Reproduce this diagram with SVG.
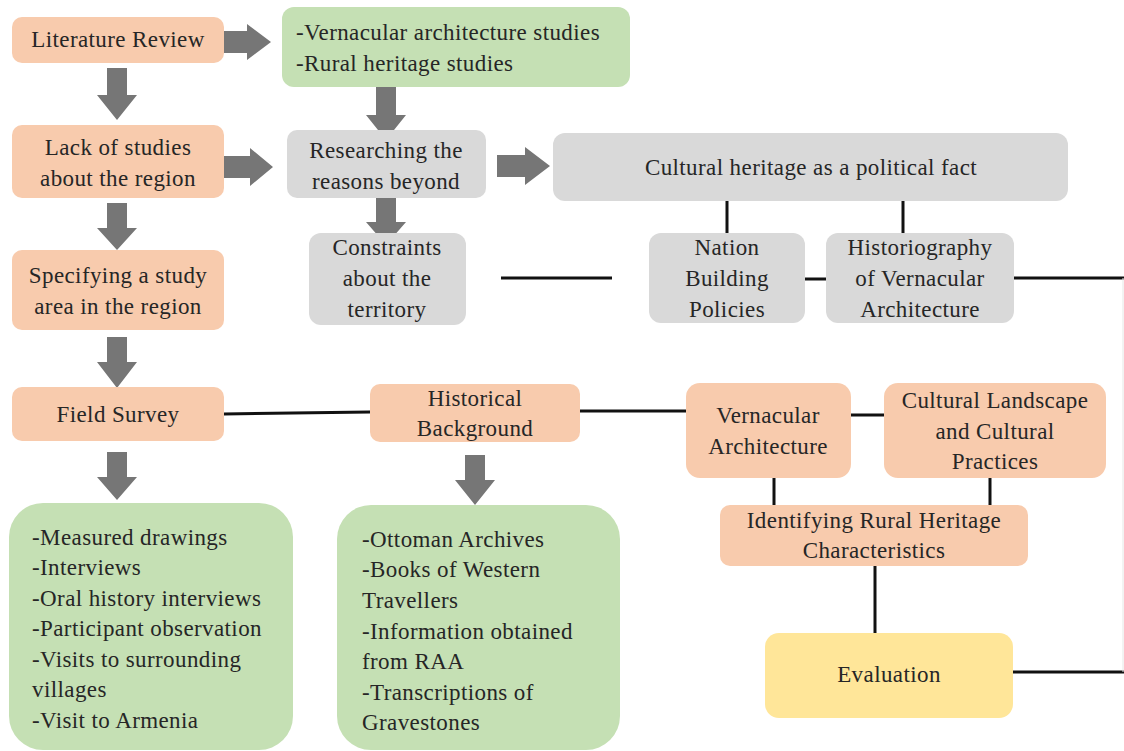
<svg xmlns="http://www.w3.org/2000/svg" width="1124" height="751" viewBox="0 0 1124 751">
<style>
.peach{fill:#f8cbad}
.green{fill:#c5e0b4}
.gray{fill:#d9d9d9}
.yellow{fill:#ffe699}
text{font-family:"Liberation Serif","DejaVu Serif",serif;font-size:23px;letter-spacing:0.4px;fill:#262626}
.c{text-anchor:middle}
.ln{stroke:#111;stroke-width:3;fill:none}
.arr{fill:#767676}
</style>
<rect width="1124" height="751" fill="#ffffff"/>
<g id="connectors">
<path class="arr" d="M222,31 H247 V24 L271,42 L247,60 V53 H222 Z"/>
<path class="arr" d="M224,156 H250 V148 L273,167 L250,186 V178 H224 Z"/>
<path class="arr" d="M497,155 H525 V147 L550,166 L525,185 V177 H497 Z"/>
<path class="arr" d="M107,68 H127 V95 H137 L117,120 L97,95 H107 Z"/>
<path class="arr" d="M107,203 H127 V228 H137 L117,250 L97,228 H107 Z"/>
<path class="arr" d="M107,337 H127 V362 H137 L117,388 L97,362 H107 Z"/>
<path class="arr" d="M107,452 H127 V477 H137 L117,500 L97,477 H107 Z"/>
<path class="arr" d="M376,85 H396 V115 H406 L386,140 L366,115 H376 Z"/>
<path class="arr" d="M376,193 H396 V222 H406 L386,245 L366,222 H376 Z"/>
<path class="arr" d="M465,455 H485 V480 H495 L475,505 L455,480 H465 Z"/>
<line class="ln" x1="501" y1="278" x2="612" y2="278"/>
<line class="ln" x1="727" y1="198" x2="727" y2="233"/>
<line class="ln" x1="903" y1="198" x2="903" y2="233"/>
<line class="ln" x1="805" y1="279" x2="826" y2="279"/>
<line class="ln" x1="1014" y1="278" x2="1124" y2="278"/>
<line class="ln" x1="224" y1="414" x2="370" y2="412"/>
<line class="ln" x1="580" y1="411" x2="686" y2="411"/>
<line class="ln" x1="851" y1="415" x2="884" y2="415"/>
<line class="ln" x1="774" y1="478" x2="774" y2="505"/>
<line class="ln" x1="990" y1="478" x2="990" y2="505"/>
<line class="ln" x1="875" y1="566" x2="875" y2="633"/>
<line class="ln" x1="1013" y1="672" x2="1124" y2="672"/>
<line x1="1123" y1="278" x2="1123" y2="672" stroke="#e6e6e6" stroke-width="1"/>
</g>
<g id="literature-review">
<rect class="peach" x="12" y="17" width="212" height="46" rx="10"/>
<text class="c" x="118" y="47">Literature Review</text>
</g>
<g id="studies">
<rect class="green" x="282" y="7" width="348" height="80" rx="12"/>
<text x="296" y="40">-Vernacular architecture studies</text>
<text x="296" y="71">-Rural heritage studies</text>
</g>
<g id="lack-of-studies">
<rect class="peach" x="12" y="125" width="212" height="73" rx="10"/>
<text class="c" x="118" y="155">Lack of studies</text>
<text class="c" x="118" y="186">about the region</text>
</g>
<g id="researching">
<rect class="gray" x="287" y="130" width="199" height="68" rx="10"/>
<text class="c" x="386" y="158">Researching the</text>
<text class="c" x="386" y="189">reasons beyond</text>
</g>
<g id="cultural-heritage">
<rect class="gray" x="553" y="133" width="515" height="68" rx="12"/>
<text class="c" x="811" y="175">Cultural heritage as a political fact</text>
</g>
<g id="constraints">
<rect class="gray" x="309" y="233" width="157" height="92" rx="12"/>
<text class="c" x="387" y="255">Constraints</text>
<text class="c" x="387" y="286">about the</text>
<text class="c" x="387" y="317">territory</text>
</g>
<g id="specifying">
<rect class="peach" x="12" y="250" width="212" height="80" rx="10"/>
<text class="c" x="118" y="283">Specifying a study</text>
<text class="c" x="118" y="314">area in the region</text>
</g>
<g id="nation-building">
<rect class="gray" x="649" y="233" width="156" height="90" rx="12"/>
<text class="c" x="727" y="255">Nation</text>
<text class="c" x="727" y="286">Building</text>
<text class="c" x="727" y="317">Policies</text>
</g>
<g id="historiography">
<rect class="gray" x="826" y="233" width="188" height="90" rx="12"/>
<text class="c" x="920" y="255">Historiography</text>
<text class="c" x="920" y="286">of Vernacular</text>
<text class="c" x="920" y="317">Architecture</text>
</g>
<g id="field-survey">
<rect class="peach" x="12" y="387" width="212" height="54" rx="10"/>
<text class="c" x="118" y="422">Field Survey</text>
</g>
<g id="historical-background">
<rect class="peach" x="370" y="384" width="210" height="58" rx="10"/>
<text class="c" x="475" y="406">Historical</text>
<text class="c" x="475" y="436">Background</text>
</g>
<g id="vernacular-architecture">
<rect class="peach" x="686" y="383" width="165" height="95" rx="14"/>
<text class="c" x="768" y="423">Vernacular</text>
<text class="c" x="768" y="454">Architecture</text>
</g>
<g id="cultural-landscape">
<rect class="peach" x="884" y="383" width="222" height="95" rx="14"/>
<text class="c" x="995" y="408">Cultural Landscape</text>
<text class="c" x="995" y="439">and Cultural</text>
<text class="c" x="995" y="469">Practices</text>
</g>
<g id="identifying">
<rect class="peach" x="720" y="505" width="308" height="61" rx="10"/>
<text class="c" x="874" y="528">Identifying Rural Heritage</text>
<text class="c" x="874" y="558">Characteristics</text>
</g>
<g id="evaluation">
<rect class="yellow" x="765" y="633" width="248" height="85" rx="14"/>
<text class="c" x="889" y="682">Evaluation</text>
</g>
<g id="field-methods">
<rect class="green" x="9" y="503" width="284" height="247" rx="34"/>
<text x="32" y="545">-Measured drawings</text>
<text x="32" y="575">-Interviews</text>
<text x="32" y="606">-Oral history interviews</text>
<text x="32" y="636">-Participant observation</text>
<text x="32" y="667">-Visits to surrounding</text>
<text x="32" y="697">villages</text>
<text x="32" y="728">-Visit to Armenia</text>
</g>
<g id="historical-sources">
<rect class="green" x="337" y="505" width="283" height="245" rx="34"/>
<text x="362" y="547">-Ottoman Archives</text>
<text x="362" y="577">-Books of Western</text>
<text x="362" y="608">Travellers</text>
<text x="362" y="639">-Information obtained</text>
<text x="362" y="669">from RAA</text>
<text x="362" y="700">-Transcriptions of</text>
<text x="362" y="730">Gravestones</text>
</g>
</svg>
